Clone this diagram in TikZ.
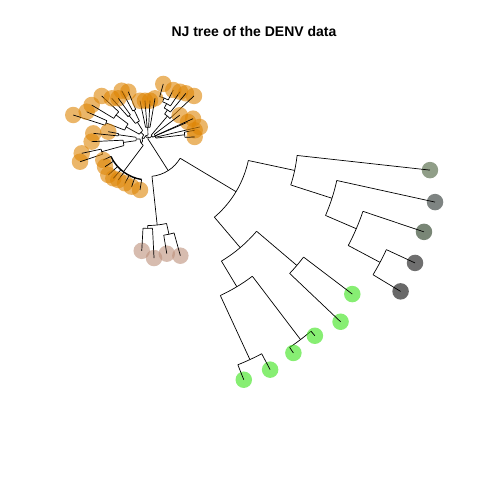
\documentclass[tikz,border=0pt]{standalone}
\usepackage{fontspec}
\newfontfamily\titlefont{Liberation Sans}
\usetikzlibrary{positioning}
\definecolor{denvO}{RGB}{222,133,5}
\definecolor{denvB}{RGB}{188,143,122}
\definecolor{denvV}{RGB}{55,227,22}
\definecolor{grayA}{RGB}{70,93,57}
\definecolor{grayB}{RGB}{40,50,47}
\definecolor{grayC}{RGB}{32,53,27}
\definecolor{grayD}{RGB}{15,15,15}
\definecolor{grayE}{RGB}{5,5,5}
% arc of an internal node: radius, from angle, to angle
\newcommand{\nodearc}[3]{\draw[branch] (#2:#1) arc[start angle=#2,end angle=#3,radius=#1pt];}
% radial branch: angle, inner radius, outer radius
\newcommand{\radial}[3]{\draw[branch] (#1:#2) -- (#1:#3);}

\begin{document}
\begin{tikzpicture}[x=1pt,y=1pt,
  branch/.style={line width=0.7pt},
  tip/.style={circle,inner sep=0pt,minimum size=16.5pt,draw=none,fill opacity=0.6}]
  \useasboundingbox (0,0) rectangle (480,480);
  \node[font=\titlefont\bfseries\fontsize{14}{16}\selectfont] (title) at (254,449) {NJ tree of the DENV data};
  \begin{scope}[shift={(148,341)}]
  % root
  \radial{83.5}{0}{2}
  \radial{-57.4}{0}{37.5}
  % gray clade
  \nodearc{37.5}{-83.9}{-30.9}
  \radial{-30.9}{37.5}{102.6}
  \nodearc{102.6}{-49.67}{-12.1}
  \radial{-12.1}{102.6}{150}
  \nodearc{150}{-17.85}{-6.3}
  \radial{-17.85}{150}{193.3}
  \nodearc{193.3}{-23.3}{-12.4}
  \radial{-23.3}{193.3}{226.8}
  \nodearc{226.8}{-28}{-18.6}
  \radial{-28}{226.8}{262.8}
  \nodearc{262.8}{-31.1}{-24.9}
  \foreach \n/\a/\r/\p/\c in {g1/-6.3/283.7/150/grayA, g2/-12.4/293.9/193.3/grayB,
      g3/-18.6/291.2/226.8/grayC, g4/-24.9/294.4/262.8/grayD, g5/-31.1/295/262.8/grayE}
    {\node[tip,fill=\c] (\n) at (\a:\r) {};
     \draw[branch] (\a:\p) -- (\n.center);}
  % green clade
  \radial{-49.67}{102.6}{142.5}
  \nodearc{142.5}{-58.98}{-40.35}
  \radial{-40.35}{142.5}{195.3}
  \nodearc{195.3}{-43.5}{-37.2}
  \radial{-58.98}{142.5}{172.4}
  \nodearc{172.4}{-65.2}{-52.75}
  \radial{-52.75}{172.4}{252}
  \nodearc{252}{-55.8}{-49.7}
  \radial{-65.2}{172.4}{243}
  \nodearc{243}{-68.3}{-62.1}
  \foreach \n/\a/\r/\p in {v1/-37.2/256.5/195.3, v2/-43.5/265.5/195.3, v3/-49.7/258/252,
      v4/-55.8/258.7/252, v5/-62.1/261/243, v6/-68.3/259.1/243}
    {\node[tip,fill=denvV] (\n) at (\a:\r) {};
     \draw[branch] (\a:\p) -- (\n.center);}
  % brown clade
  \radial{-83.9}{37.5}{86.5}
  \nodearc{86.5}{-90.15}{-77.6}
  \radial{-90.15}{86.5}{89.4}
  \nodearc{89.4}{-93.2}{-87.1}
  \radial{-77.6}{86.5}{97.5}
  \nodearc{97.5}{-80.7}{-74.5}
  \foreach \n/\a/\r/\p in {b1/-93.2/112/89.4, b2/-87.1/119.2/89.4, b3/-80.7/116.2/97.5, b4/-74.5/121.1/97.5}
    {\node[tip,fill=denvB] (\n) at (\a:\r) {};
     \draw[branch] (\a:\p) -- (\n.center);}
  % orange clade, near the root
  \nodearc{2}{35.7}{131.3}
  \radial{35.7}{2}{5}
  \radial{131.3}{2}{4}
  \nodearc{5}{21.7}{49.7}
  \radial{21.7}{5}{8}
  \nodearc{8}{6.55}{36.8}
  \radial{6.55}{8}{37}
  \nodearc{37}{2.5}{10.6}
  \radial{49.7}{5}{30}
  \nodearc{30}{43.1}{56.3}
  \radial{56.3}{30}{35}
  \nodearc{35}{50.3}{62.25}
  \radial{62.25}{35}{40}
  \nodearc{40}{55.9}{68.6}
  \radial{68.6}{40}{44}
  \nodearc{44}{62.7}{74.5}
  \nodearc{4}{91}{171.6}
  \radial{91}{4}{12}
  \nodearc{12}{80.2}{101.8}
  \radial{171.6}{4}{6}
  \nodearc{6}{136.65}{206.5}
  \radial{136.65}{6}{10}
  \nodearc{10}{122.25}{151.05}
  \radial{151.05}{10}{25}
  \nodearc{25}{143}{159.1}
  \radial{159.1}{25}{45}
  \nodearc{45}{156}{162.2}
  \radial{143}{25}{40}
  \nodearc{40}{137.1}{148.9}
  \radial{122.25}{10}{20}
  \nodearc{20}{115.6}{128.9}
  \radial{128.9}{20}{30}
  \nodearc{30}{126.1}{131.7}
  \radial{115.6}{20}{32}
  \nodearc{32}{112.6}{118.6}
  \radial{206.5}{6}{8}
  \nodearc{8}{179.9}{233.15}
  \radial{179.9}{8}{12}
  \nodearc{12}{171.85}{188}
  \radial{171.85}{12}{30}
  \nodearc{30}{169.6}{174.1}
  \radial{188}{12}{25}
  \nodearc{25}{182.7}{195.35}
  \radial{195.35}{25}{48}
  \nodearc{48}{192.2}{198.5}
  \radial{233.15}{8}{41}
  \draw[branch,line width=1.4pt] (205.2:41) arc[start angle=205.2,end angle=261.1,radius=41pt];
  % orange tips
  \foreach \n/\a/\r/\p in {o1/162.2/78.5/45, o2/156/67.1/45, o3/148.9/65.8/40, o4/137.1/63.2/40,
      o5/131.7/54.5/30, o6/126.1/50.4/30, o7/118.6/55/32, o8/112.6/51.2/32,
      o9/101.8/39.1/12, o10/94.5/38.4/12, o11/87/38.4/12, o12/80.2/41.3/12,
      o13/74.5/57.1/44, o14/62.7/55.1/44, o15/55.9/57.1/40, o16/50.3/59.4/35, o17/43.1/63/30,
      o18/36.8/39.6/8, o19/23/43.5/8, o20/24.3/49.4/8, o21/13.1/53.1/8, o22/10.6/47.5/37, o23/2.5/46.7/37,
      o24/169.6/40.4/30, o25/174.1/55/30, o26/182.7/56.4/25, o27/192.2/67.8/48, o28/198.5/71.7/48,
      o29/205.2/49.4/41, o30/212.8/51.1/41, o31/222.2/53.6/41, o32/228.6/52.4/41,
      o33/234.1/50.6/41, o34/242.6/49.9/41, o35/251.1/50.4/41, o36/261.1/51.6/41}
    {\node[tip,fill=denvO] (\n) at (\a:\r) {};
     \draw[branch] (\a:\p) -- (\n.center);}
  \end{scope}
\end{tikzpicture}
\end{document}
